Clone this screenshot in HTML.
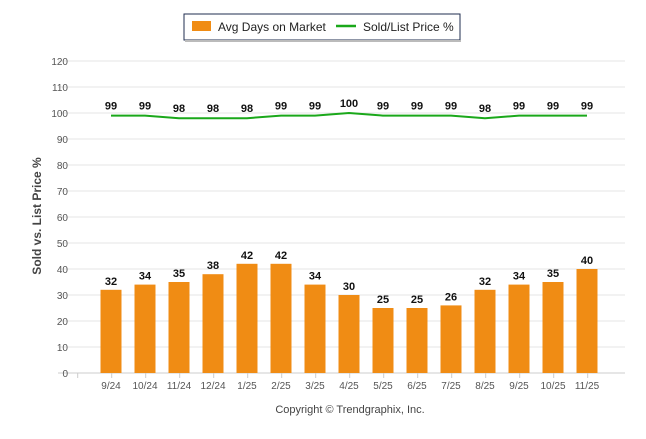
<!DOCTYPE html>
<html><head><meta charset="utf-8"><style>
body{margin:0;background:#fff;font-family:"Liberation Sans",sans-serif}
svg text{font-family:"Liberation Sans",sans-serif}
</style></head><body>
<svg id="c" width="646" height="434" xmlns="http://www.w3.org/2000/svg">
<g>
<rect x="184" y="14" width="276" height="26" fill="#fff" stroke="#1f2d4f" stroke-width="1"/>
<rect x="185" y="40" width="276" height="2" fill="#bbb"/>
<rect x="192" y="21" width="19" height="10" fill="#f08c14"/>
<text x="218" y="31" font-size="12" fill="#222">Avg Days on Market</text>
<line x1="336" y1="26" x2="356" y2="26" stroke="#1aa81a" stroke-width="2.5"/>
<text x="363" y="31" font-size="12" fill="#222">Sold/List Price %</text>
</g>
<text transform="translate(41,216) rotate(-90)" text-anchor="middle" font-size="12" font-weight="bold" fill="#444">Sold vs. List Price %</text>
<text x="350" y="413" text-anchor="middle" font-size="11" fill="#444">Copyright © Trendgraphix, Inc.</text>
<g id="grid"></g><g id="bars"></g><g id="line"></g>
</svg>
<script>
const categories=["9/24","10/24","11/24","12/24","1/25","2/25","3/25","4/25","5/25","6/25","7/25","8/25","9/25","10/25","11/25"];
const daysOnMarket=[32,34,35,38,42,42,34,30,25,25,26,32,34,35,40];
const soldListPct=[99,99,98,98,98,99,99,100,99,99,99,98,99,99,99];
const yTicks=[0,10,20,30,40,50,60,70,80,90,100,110,120];
const NS="http://www.w3.org/2000/svg";
const y=v=>373-v*2.6;
const x=i=>77+34*(i+1);
function mk(t,a,p){const e=document.createElementNS(NS,t);for(const k in a)e.setAttribute(k,a[k]);p.appendChild(e);return e;}
const grid=document.getElementById('grid'),bars=document.getElementById('bars'),line=document.getElementById('line');
yTicks.forEach(v=>{
 const l=mk('line',{x1:58,x2:625,y1:y(v),y2:y(v),stroke:v===0?'#ccc':'#e6e6e6','stroke-width':1},grid);
 
 
 const t=mk('text',{x:68,y:y(v)+4,'text-anchor':'end','font-size':10,fill:'#555'},grid);t.textContent=v;
 
 
});
for(let i=-1;i<categories.length;i++){const tk=mk('line',{x1:x(i)+(i<0?0.7:0.7),x2:x(i)+0.7,y1:373,y2:378,stroke:'#ccc'},grid);
 
 }
categories.forEach((c,i)=>{
 const r=mk('rect',{x:x(i)-10.5,y:y(daysOnMarket[i]),width:21,height:373-y(daysOnMarket[i]),fill:'#f08c14'},bars);
 
 
 const t=mk('text',{x:x(i),y:y(daysOnMarket[i])-5,'text-anchor':'middle','font-size':11,'font-weight':'bold',fill:'#111'},bars);t.textContent=daysOnMarket[i];
 
 
 const xl=mk('text',{x:x(i),y:389,'text-anchor':'middle','font-size':10,fill:'#555'},bars);xl.textContent=c;
 
 
 const pl=mk('text',{x:x(i),y:y(soldListPct[i])-6,'text-anchor':'middle','font-size':11,'font-weight':'bold',fill:'#111'},line);pl.textContent=soldListPct[i];
 
 
});
const p=mk('polyline',{points:soldListPct.map((v,i)=>x(i)+','+y(v)).join(' '),fill:'none',stroke:'#1aa81a','stroke-width':2},line);


</script>
</body></html>
